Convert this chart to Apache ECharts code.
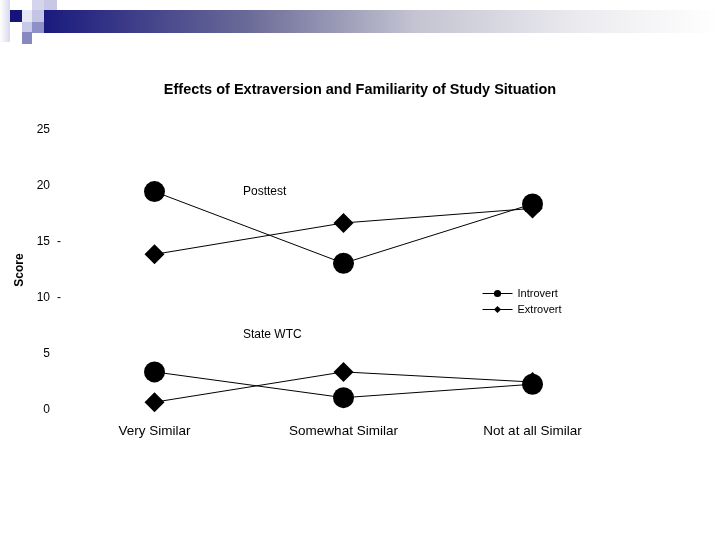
<!DOCTYPE html>
<html>
<head>
<meta charset="utf-8">
<script src="https://cdn.jsdelivr.net/npm/echarts@6/dist/echarts.min.js"></script>
<style>html,body{margin:0;padding:0;background:#fff}#container{width:720px;height:540px}</style>
</head>
<body>
<div id="container"></div>
<script>
// data
var categories = ['Very Similar', 'Somewhat Similar', 'Not at all Similar'];
var postIntro = [19.5, 13.1, 18.4];
var postExtro = [13.9, 16.7, 18.0];
var wtcIntro = [3.4, 1.1, 2.3];
var wtcExtro = [0.7, 3.4, 2.5];
var yTicks = [0, 5, 10, 15, 20, 25];
var dashed = [10, 15];

var dom = document.getElementById('container');
var myChart = echarts.init(dom);
var font = 'Liberation Sans, Arial, sans-serif';

function line(name, data, symbol) {
    return {
        name: name,
        type: 'line',
        data: data,
        symbol: symbol,
        symbolSize: symbol == 'circle' ? 21 : 20,
        lineStyle: {color: '#000', width: 1},
        itemStyle: {color: '#000'},
        emphasis: {disabled: true},
        z: symbol == 'circle' ? 3 : 2
    };
}

var option = {
    animation: false,
    title: {
        text: 'Effects of Extraversion and Familiarity of Study Situation',
        left: 'center',
        top: 77,
        textStyle: {fontFamily: font, fontSize: 14.5, fontWeight: 'bold', color: '#000'}
    },
    legend: {
        data: ['Introvert', 'Extrovert'],
        orient: 'vertical',
        left: 477,
        top: 283,
        itemWidth: 30,
        itemHeight: 9,
        itemGap: 5,
        lineStyle: {width: 1},
        textStyle: {fontFamily: font, fontSize: 11, color: '#000'}
    },
    grid: {left: 60, right: 93, top: 130, bottom: 130},
    xAxis: {
        type: 'category',
        data: categories,
        axisLine: {show: false},
        axisTick: {show: false},
        axisLabel: {fontFamily: font, fontSize: 13.5, color: '#000', margin: 14}
    },
    yAxis: {
        type: 'value',
        min: yTicks[0],
        max: yTicks[yTicks.length - 1],
        interval: 5,
        name: 'Score',
        nameLocation: 'middle',
        nameGap: 33,
        nameTextStyle: {fontFamily: font, fontSize: 12, fontWeight: 'bold', color: '#000'},
        splitLine: {show: false},
        axisLine: {show: false},
        axisTick: {show: false},
        axisLabel: {
            margin: -1,
            formatter: function (v) {
                return '{n|' + v + '}{d|' + (dashed.indexOf(v) >= 0 ? ' -' : ' ') + '}';
            },
            rich: {
                n: {fontFamily: font, fontSize: 12, color: '#000'},
                d: {fontFamily: font, fontSize: 12, color: '#000', width: 11}
            }
        }
    },
    graphic: [
        {type: 'rect', shape: {x: 0, y: 0, width: 10, height: 42}, style: {fill: new echarts.graphic.LinearGradient(0, 0, 1, 0, [{offset: 0, color: '#ffffff'}, {offset: 1, color: '#d8d8ee'}])}},
        {type: 'rect', shape: {x: 10, y: 10, width: 12, height: 12}, style: {fill: '#14147a'}},
        {type: 'rect', shape: {x: 22, y: 10, width: 10, height: 12}, style: {fill: '#e6e6f4'}},
        {type: 'rect', shape: {x: 32, y: 0, width: 12, height: 10}, style: {fill: '#d4d4ec'}},
        {type: 'rect', shape: {x: 32, y: 10, width: 12, height: 12}, style: {fill: '#c4c4e4'}},
        {type: 'rect', shape: {x: 44, y: 0, width: 13, height: 10}, style: {fill: '#c8c8e6'}},
        {type: 'rect', shape: {x: 22, y: 22, width: 10, height: 10}, style: {fill: '#c8c8e8'}},
        {type: 'rect', shape: {x: 32, y: 22, width: 12, height: 11}, style: {fill: '#9090c8'}},
        {type: 'rect', shape: {x: 22, y: 32, width: 10, height: 12}, style: {fill: '#8888c0'}},
        {type: 'rect', shape: {x: 44, y: 10, width: 676, height: 23}, style: {fill: new echarts.graphic.LinearGradient(0, 0, 1, 0, [
            {offset: 0, color: '#1a1a7e'},
            {offset: 0.3, color: '#6a6a98'},
            {offset: 0.55, color: '#c4c4d2'},
            {offset: 0.8, color: '#ececf0'},
            {offset: 1, color: '#ffffff'}
        ])}},
        {type: 'text', left: 243, top: 186, style: {text: 'Posttest', font: '12px ' + font, fill: '#000'}},
        {type: 'text', left: 243, top: 329, style: {text: 'State WTC', font: '12px ' + font, fill: '#000'}}
    ],
    series: [
        line('Introvert', postIntro, 'circle'),
        line('Extrovert', postExtro, 'diamond'),
        line('Introvert', wtcIntro, 'circle'),
        line('Extrovert', wtcExtro, 'diamond')
    ]
};

if (option && typeof option === 'object') {
    myChart.setOption(option);
}
</script>
</body>
</html>
